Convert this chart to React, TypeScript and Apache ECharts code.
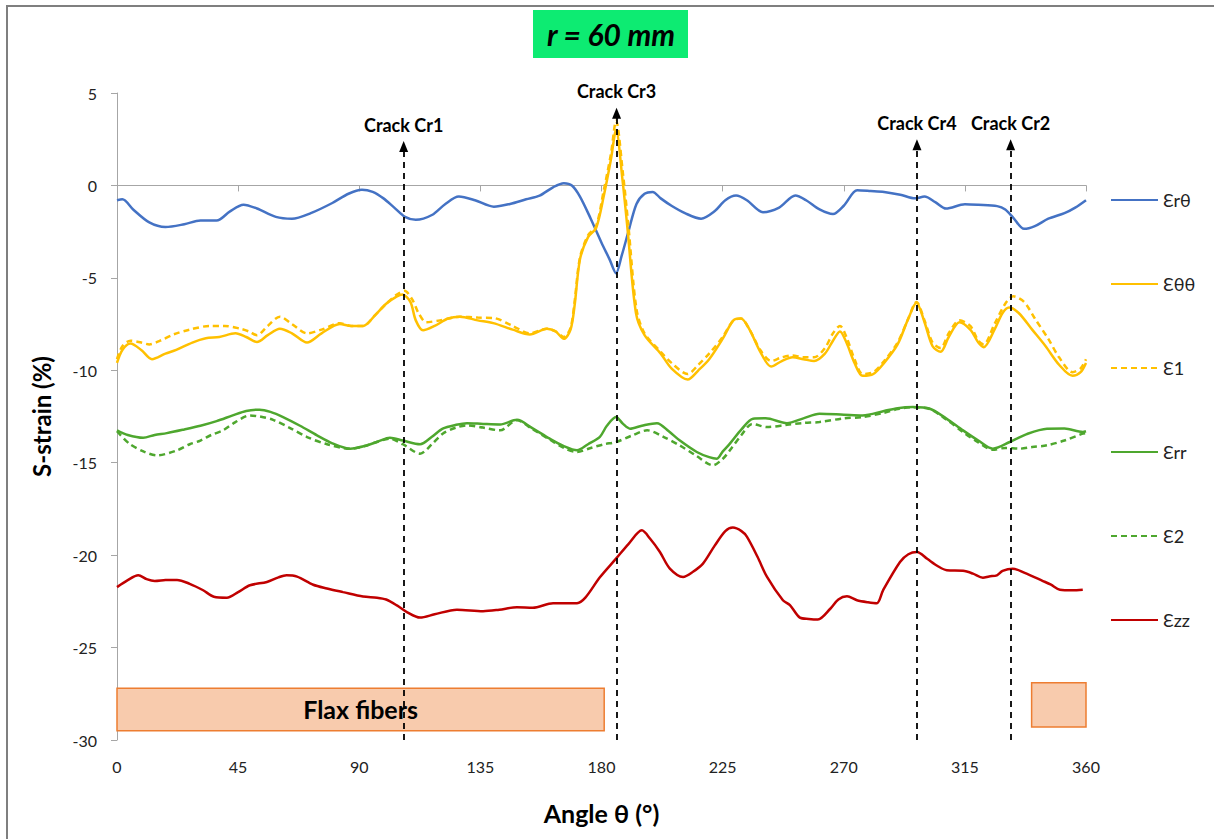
import React, { useEffect, useRef } from "react";
import * as echarts from "echarts";

type Pt = [number, number];

const seriesNames = ["Ɛrθ", "Ɛθθ", "Ɛ1", "Ɛrr", "Ɛ2", "Ɛzz"];

const erTheta: Pt[] = [
  [0,-0.8],[2,-0.75],[6,-1.3],[12,-2.0],[18,-2.25],[25,-2.1],[31,-1.9],[37,-1.9],[42,-1.4],[47,-1.04],
  [52,-1.25],[59,-1.7],[65,-1.8],[72,-1.5],[80,-0.95],[86,-0.45],[91,-0.23],[95,-0.35],[99,-0.7],[103,-1.2],
  [107,-1.7],[111,-1.86],[117,-1.6],[122,-1.0],[127,-0.6],[133,-0.8],[140,-1.15],[146,-1.0],[152,-0.75],[157,-0.55],
  [162,-0.1],[166,0.12],[169,0.0],[172,-0.6],[176,-1.8],[180,-3.1],[183,-4.0],[185.4,-4.75],[187.5,-3.8],[190,-2.5],
  [193,-1.0],[196,-0.45],[199,-0.35],[202,-0.7],[206,-1.1],[211,-1.5],[217,-1.8],[222,-1.4],[226,-0.8],[230,-0.55],
  [234,-0.8],[240,-1.45],[246,-1.2],[252,-0.55],[256,-0.8],[261,-1.3],[266,-1.55],[270,-1.1],[275,-0.26],[280,-0.3],
  [285,-0.35],[291,-0.5],[296.5,-0.7],[300,-0.6],[304,-0.9],[308,-1.25],[315,-1.02],[320,-1.05],[327,-1.12],[330,-1.3],
  [333,-1.75],[337,-2.35],[341,-2.2],[346,-1.8],[352,-1.5],[356,-1.2],[360,-0.8],
];

const eThetaTheta: Pt[] = [
  [0,-9.6],[2,-8.9],[5,-8.55],[9,-8.9],[13,-9.4],[18,-9.1],[22,-8.9],[28,-8.5],[33,-8.27],[38,-8.2],
  [44,-8.0],[48,-8.2],[52,-8.47],[56,-8.1],[60.5,-7.75],[65,-8.0],[70.6,-8.5],[76,-8.0],[82.8,-7.5],[87,-7.6],
  [91.4,-7.6],[96,-7.0],[100,-6.4],[104,-6.0],[106,-5.9],[109,-6.3],[111,-7.3],[113.7,-7.84],[118,-7.6],[123,-7.2],
  [127.4,-7.1],[134,-7.3],[139.8,-7.45],[147,-7.8],[153.4,-8.06],[159.7,-7.75],[163,-7.9],[166,-8.3],[168.5,-7.8],[170,-6.5],
  [172,-4.0],[175,-2.8],[178,-2.3],[180.8,-0.6],[183.5,1.4],[185.4,3.0],[187.8,0.3],[189.7,-2.4],[192.8,-6.9],[196,-8.1],
  [202,-9.1],[206,-9.9],[212,-10.5],[216,-10.0],[220,-9.4],[225,-8.3],[229,-7.3],[231.8,-7.2],[235,-7.8],[239,-9.0],
  [243,-9.8],[247,-9.5],[251,-9.3],[255,-9.4],[259,-9.5],[263,-9.1],[266,-8.4],[268.6,-7.9],[271,-8.5],[274,-9.6],
  [277,-10.3],[281,-10.2],[285,-9.6],[290,-8.6],[294,-7.2],[297,-6.35],[300,-7.4],[303,-8.7],[306,-9.0],[309,-8.2],
  [313,-7.4],[317,-7.8],[320,-8.5],[322,-8.75],[326,-7.8],[329,-6.9],[331.4,-6.6],[335,-6.9],[340,-7.8],[345,-8.7],
  [350,-9.7],[355,-10.3],[358,-10.1],[360,-9.6],
];

const e1: Pt[] = [
  [0,-9.4],[2,-8.7],[5,-8.4],[9,-8.5],[12,-8.6],[16,-8.4],[21,-8.06],[27,-7.8],[34.6,-7.6],[40,-7.6],
  [45.8,-7.75],[49,-7.9],[52,-8.1],[56,-7.6],[60.5,-7.1],[65,-7.5],[70.6,-8.0],[76,-7.8],[82.8,-7.45],[87,-7.6],
  [91.4,-7.6],[96,-7.0],[100,-6.4],[104,-5.9],[106.8,-5.7],[109.8,-6.2],[112,-6.9],[114.9,-7.4],[120,-7.3],[127.4,-7.1],
  [134,-7.15],[139.8,-7.17],[147,-7.6],[153.4,-8.0],[159.7,-7.75],[163,-7.9],[166,-8.2],[168.5,-7.7],[170,-6.3],[172,-3.9],
  [175,-2.7],[178,-2.2],[180.8,-0.3],[183.5,1.7],[185.4,3.5],[188,0.6],[190,-2.2],[193,-6.7],[196,-8.0],[202,-9.0],
  [206,-9.6],[212,-10.2],[216,-9.7],[220,-9.1],[225,-8.2],[229,-7.3],[231.8,-7.2],[235,-7.8],[239,-8.9],[243,-9.5],
  [247,-9.3],[251,-9.2],[255,-9.3],[259,-9.3],[263,-8.8],[266,-8.0],[268.6,-7.6],[271,-8.2],[274,-9.4],[277,-10.2],
  [281,-10.1],[285,-9.5],[290,-8.5],[294,-7.2],[297,-6.3],[300,-7.3],[303,-8.5],[306,-8.8],[309,-8.0],[313,-7.3],
  [317,-7.6],[320,-8.4],[322,-8.6],[326,-7.5],[330,-6.4],[333,-6.0],[337,-6.3],[341,-7.2],[346,-8.3],[350,-9.3],
  [355,-10.1],[358,-9.9],[360,-9.4],
];

const err: Pt[] = [
  [0,-13.25],[4,-13.5],[9.7,-13.65],[14,-13.5],[18.5,-13.4],[25,-13.2],[31,-13.0],[37,-12.75],[43,-12.44],[48,-12.2],
  [53,-12.13],[57,-12.25],[61.7,-12.53],[68,-13.0],[74.3,-13.52],[80,-13.95],[86.6,-14.24],[92,-14.1],[97,-13.85],[101.4,-13.65],
  [106.2,-13.8],[112.6,-14.0],[117,-13.6],[121,-13.16],[126,-12.95],[130,-12.86],[136,-12.9],[142.3,-12.93],[148.6,-12.68],[154,-13.1],
  [160.8,-13.7],[166,-14.1],[170.9,-14.33],[175,-14.0],[179.4,-13.6],[182,-13.0],[185.4,-12.53],[188,-12.9],[190.6,-13.16],[195,-13.0],
  [200.6,-12.86],[205,-13.3],[209,-13.79],[215.4,-14.42],[220,-14.7],[222.9,-14.78],[225,-14.4],[227.7,-13.97],[232,-13.2],[236.3,-12.62],
  [241,-12.6],[248.9,-12.86],[255,-12.6],[261,-12.35],[270,-12.4],[277,-12.44],[285,-12.2],[290,-12.05],[295.7,-11.99],[302,-12.08],
  [308,-12.6],[314.3,-13.25],[320,-13.8],[325.4,-14.24],[331.7,-13.88],[338,-13.45],[345.5,-13.16],[352,-13.15],[358.8,-13.34],[360,-13.3],
];

const e2: Pt[] = [
  [0,-13.3],[4.6,-13.97],[10,-14.4],[14.9,-14.6],[22.3,-14.33],[27,-14.0],[31,-13.8],[35,-13.5],[39.4,-13.25],[44,-12.8],
  [49.4,-12.44],[53,-12.5],[58,-12.68],[64,-13.1],[70.6,-13.61],[78,-14.0],[86.6,-14.24],[92,-14.1],[97,-13.85],[101.4,-13.7],
  [106.2,-14.0],[112.6,-14.51],[117,-14.0],[121,-13.43],[126,-13.1],[130,-12.98],[136,-13.1],[142.3,-13.25],[148.6,-12.7],[154,-13.15],
  [160.8,-13.75],[166,-14.2],[170.9,-14.42],[176,-14.2],[181,-14.0],[185.4,-13.88],[191,-13.55],[197,-13.25],[203,-13.6],[209,-14.06],
  [215,-14.6],[221.4,-15.14],[225,-14.8],[227.7,-14.33],[232,-13.5],[236,-12.9],[241.5,-13.07],[248.9,-12.95],[255,-12.85],[261,-12.8],
  [270,-12.6],[277,-12.53],[285,-12.3],[290,-12.1],[295.7,-12.0],[302,-12.1],[308,-12.65],[314.3,-13.34],[320,-13.9],[325.4,-14.3],
  [330,-14.2],[335.4,-14.24],[340,-14.15],[345.5,-14.06],[352,-13.8],[358.8,-13.43],[360,-13.4],
];

const ezz: Pt[] = [
  [0,-21.73],[4,-21.35],[7.9,-21.09],[11,-21.3],[14,-21.4],[18,-21.35],[22.3,-21.34],[27,-21.55],[32,-21.9],[36,-22.25],
  [40.8,-22.3],[45,-22.0],[49.4,-21.63],[55.7,-21.45],[60,-21.2],[63,-21.09],[66.9,-21.16],[72.9,-21.6],[78,-21.8],[84,-22.0],
  [91.4,-22.24],[96.6,-22.3],[100,-22.4],[104,-22.72],[107.7,-23.08],[112.6,-23.38],[118,-23.2],[126.3,-22.95],[136,-23.03],[142,-22.95],
  [148.6,-22.82],[154.5,-22.85],[162,-22.6],[170.9,-22.6],[174,-22.3],[179.4,-21.2],[185.4,-20.19],[190,-19.4],[195,-18.66],[198,-19.1],
  [201.7,-19.83],[205.4,-20.73],[210.3,-21.18],[214,-20.9],[217.7,-20.46],[222,-19.5],[226,-18.7],[228.8,-18.51],[232,-18.7],[234,-19.0],
  [238,-20.1],[241.5,-21.18],[247.4,-22.44],[250,-22.7],[253.7,-23.38],[257,-23.45],[260.4,-23.48],[265,-22.9],[268,-22.4],[271.2,-22.23],
  [274.9,-22.44],[279,-22.55],[282.3,-22.6],[284.6,-21.9],[290.9,-20.37],[294,-19.95],[297.2,-19.83],[301,-20.2],[305,-20.6],[308.3,-20.82],
  [314.3,-20.85],[318,-21.0],[321.7,-21.22],[324,-21.15],[326.9,-21.09],[329,-20.85],[332.8,-20.73],[337,-20.95],[344,-21.4],[347,-21.6],
  [350.3,-21.87],[355,-21.9],[358.8,-21.87],
];

const crackLabels = ["Crack Cr1", "Crack Cr3", "Crack Cr4", "Crack Cr2"];
const crackAngles = [106.5, 185.6, 297.2, 332.0];
const crackTops = [2.1, 3.9, 2.2, 2.2];

const fiberStart = [0, 339.8];
const fiberEnd = [181, 360];
const fiberTop = [-27.2, -26.9];
const fiberBottom = [-29.5, -29.3];
const fiberLabels = ["Flax fibers", ""];

const xTicks = { min: 0, max: 360, interval: 45 };
const yTicks = { min: -30, max: 5, interval: 5 };

const FONT = "Lato, 'Noto Sans', sans-serif";

export default function App() {
  const ref = useRef<HTMLDivElement>(null);
  useEffect(() => {
    if (!ref.current) return;
    const chart = echarts.init(ref.current, undefined, { renderer: "svg" });
    const colors = ["#4472C4", "#FFC000", "#FFC000", "#4EA72E", "#4EA72E", "#C00000"];
    const dashed = [false, false, true, false, true, false];
    const datas = [erTheta, eThetaTheta, e1, err, e2, ezz];

    const lineSeries = seriesNames.map((name, i) => ({
      name,
      type: "line",
      data: datas[i],
      symbol: "none",
      smooth: 0.3,
      z: 3,
      lineStyle: {
        color: colors[i],
        width: 2.5,
        type: dashed[i] ? [6, 4] : "solid",
      },
      itemStyle: { color: colors[i] },
    }));

    const markerSeries = {
      name: "markers",
      type: "line",
      data: [],
      symbol: "none",
      z: 5,
      markLine: {
        silent: true,
        symbol: ["none", "triangle"],
        symbolSize: [9, 11],
        lineStyle: { color: "#000", width: 1.8, type: [6, 5] },
        label: {
          show: true,
          position: "end",
          distance: 13,
          color: "#000",
          fontFamily: FONT,
          fontWeight: "bold",
          fontSize: 18,
          formatter: (p: any) => p.name,
        },
        data: crackAngles.map((a, i) => [
          { name: crackLabels[i], coord: [a, yTicks.min] },
          { coord: [a, crackTops[i]] },
        ]),
      },
      markArea: {
        silent: true,
        itemStyle: { color: "#F8CBAD", borderColor: "#ED7D31", borderWidth: 1.5 },
        label: {
          show: true,
          position: "inside",
          color: "#000",
          fontFamily: FONT,
          fontWeight: "bold",
          fontSize: 25,
        },
        data: fiberStart.map((s, i) => [
          { name: fiberLabels[i], coord: [s, fiberTop[i]] },
          { coord: [fiberEnd[i], fiberBottom[i]] },
        ]),
      },
    };

    chart.setOption({
      animation: false,
      backgroundColor: "#fff",
      textStyle: { fontFamily: FONT },
      grid: { left: 117, right: 128, top: 93, bottom: 99, containLabel: false },
      legend: {
        data: seriesNames,
        orient: "vertical",
        left: 1110,
        top: 190,
        padding: 0,
        itemWidth: 47,
        itemHeight: 14,
        itemGap: 64,
        itemStyle: { opacity: 0 },
        textStyle: { fontSize: 18, color: "#222", lineHeight: 20, fontFamily: FONT },
      },
      xAxis: {
        type: "value",
        min: xTicks.min,
        max: xTicks.max,
        interval: xTicks.interval,
        name: "Angle θ (°)",
        nameLocation: "middle",
        nameGap: 60,
        nameTextStyle: { fontSize: 25, fontWeight: "bold", color: "#000", fontFamily: FONT },
        axisLine: { lineStyle: { color: "#a6a6a6", width: 1 } },
        axisTick: { show: true, length: 6, lineStyle: { color: "#a6a6a6" } },
        axisLabel: { fontSize: 16, color: "#222", margin: 18, fontFamily: FONT },
        splitLine: { show: false },
      },
      yAxis: {
        type: "value",
        min: yTicks.min,
        max: yTicks.max,
        interval: yTicks.interval,
        name: "S-strain (%)",
        nameLocation: "middle",
        nameGap: 64,
        nameTextStyle: { fontSize: 24, fontWeight: "bold", color: "#000", fontFamily: FONT },
        axisLine: { show: true, lineStyle: { color: "#a6a6a6", width: 1 } },
        axisTick: { show: true, length: 6, lineStyle: { color: "#a6a6a6" } },
        axisLabel: { fontSize: 16, color: "#222", margin: 20, fontFamily: FONT },
        splitLine: { show: false },
      },
      graphic: [
        {
          type: "polyline",
          shape: { points: [[7, 839], [7, 6], [1214, 6]] },
          style: { stroke: "#7f7f7f", lineWidth: 2, fill: null },
          silent: true,
        },
        {
          type: "rect",
          shape: { x: 533, y: 10, width: 155, height: 48 },
          style: { fill: "#0DEB72" },
          silent: true,
        },
        {
          type: "text",
          x: 611,
          y: 34,
          style: {
            text: "r = 60 mm",
            fontSize: 30,
            fontWeight: "bold",
            fontStyle: "italic",
            fontFamily: FONT,
            fill: "#000",
            align: "center",
            verticalAlign: "middle",
          },
          silent: true,
        },
      ],
      series: [...lineSeries, markerSeries],
    });
    return () => chart.dispose();
  }, []);
  return (
    <div
      ref={ref}
      style={{ position: "fixed", left: 0, top: 0, width: 1214, height: 839, background: "#fff" }}
    />
  );
}
